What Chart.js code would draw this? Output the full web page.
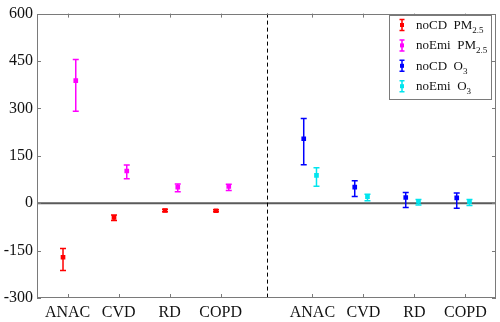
<!DOCTYPE html>
<html>
<head>
<meta charset="utf-8">
<script src="https://cdn.jsdelivr.net/npm/chart.js@4.4.1/dist/chart.umd.min.js"></script>
<style>
html, body { margin: 0; padding: 0; background: #fff; }
#wrap { width: 500px; height: 322px; }
</style>
</head>
<body>
<div id="wrap"><canvas id="healthchart"></canvas></div>
<script>
// x positions of the category ticks (left panel PM2.5, right panel O3)
const categories = ['ANAC', 'CVD', 'RD', 'COPD', 'ANAC', 'CVD', 'RD', 'COPD'];
const tickPos = [1, 2, 3, 4, 5.8, 6.8, 7.8, 8.8];
const dividerPos = 4.9;

const noCDPM = [-171, -45, -23, -24];
const noCDPMLo = [-213, -55, -27, -27];
const noCDPMHi = [-143, -37, -19, -21];

const noEmiPM = [388, 102, 51, 53];
const noEmiPMLo = [291, 77, 36, 40];
const noEmiPMHi = [455, 121, 61, 60];

const noCDO3 = [204, 51, 18, 17];
const noCDO3Lo = [122, 21, -14, -16];
const noCDO3Hi = [268, 71, 34, 32];

const noEmiO3 = [88, 21, 6, 5];
const noEmiO3Lo = [54, 8, -6, -7];
const noEmiO3Hi = [112, 28, 12, 12];

const serif = "'Liberation Serif', 'DejaVu Serif', serif";

function pts(xs, off, vals) {
    return vals.map((v, i) => ({ x: xs[i] + off, y: v }));
}

const series = [
    { name: 'noCD', sub: 'PM', idx: '2.5', color: '#ff0000', data: pts(tickPos.slice(0, 4), -0.09, noCDPM), lo: noCDPMLo, hi: noCDPMHi },
    { name: 'noEmi', sub: 'PM', idx: '2.5', color: '#ff00ff', data: pts(tickPos.slice(0, 4), 0.16, noEmiPM), lo: noEmiPMLo, hi: noEmiPMHi },
    { name: 'noCD', sub: 'O', idx: '3', color: '#0000ff', data: pts(tickPos.slice(4), -0.17, noCDO3), lo: noCDO3Lo, hi: noCDO3Hi },
    { name: 'noEmi', sub: 'O', idx: '3', color: '#00e5ee', data: pts(tickPos.slice(4), 0.08, noEmiO3), lo: noEmiO3Lo, hi: noEmiO3Hi }
];

// frame, inner ticks, zero line, divider, error bars, legend
const decor = {
    id: 'decor',
    beforeDatasetsDraw(chart) {
        const { ctx, chartArea: a, scales: { x, y } } = chart;
        ctx.save();
        // zero line
        ctx.strokeStyle = '#5a5a5a';
        ctx.lineWidth = 2;
        const y0 = y.getPixelForValue(0);
        ctx.beginPath(); ctx.moveTo(a.left, y0); ctx.lineTo(a.right, y0); ctx.stroke();
        // dashed divider
        const xd = Math.round(x.getPixelForValue(dividerPos)) + 0.5;
        ctx.strokeStyle = '#000';
        ctx.lineWidth = 1;
        ctx.setLineDash([4, 3]);
        ctx.beginPath(); ctx.moveTo(xd, a.top); ctx.lineTo(xd, a.bottom); ctx.stroke();
        ctx.setLineDash([]);
        // error bars
        ctx.lineWidth = 1.5;
        series.forEach(s => {
            ctx.strokeStyle = s.color;
            s.data.forEach((p, i) => {
                const px = x.getPixelForValue(p.x);
                const top = y.getPixelForValue(s.hi[i]);
                const bot = y.getPixelForValue(s.lo[i]);
                ctx.beginPath();
                ctx.moveTo(px, top); ctx.lineTo(px, bot);
                ctx.moveTo(px - 3, top); ctx.lineTo(px + 3, top);
                ctx.moveTo(px - 3, bot); ctx.lineTo(px + 3, bot);
                ctx.stroke();
            });
        });
        ctx.restore();
    },
    afterDraw(chart) {
        const { ctx, chartArea: a, scales: { x, y } } = chart;
        ctx.save();
        ctx.strokeStyle = '#7a7a7a';
        ctx.lineWidth = 1;
        ctx.strokeRect(Math.round(a.left) + 0.5, Math.round(a.top) + 0.5,
            Math.round(a.right - a.left) - 1, Math.round(a.bottom - a.top) - 1);
        ctx.beginPath();
        y.ticks.forEach(t => {
            const py = Math.round(y.getPixelForValue(t.value)) + 0.5;
            ctx.moveTo(a.left, py); ctx.lineTo(a.left + 4, py);
            ctx.moveTo(a.right, py); ctx.lineTo(a.right - 4, py);
        });
        tickPos.forEach(v => {
            const px = Math.round(x.getPixelForValue(v)) + 0.5;
            ctx.moveTo(px, a.bottom); ctx.lineTo(px, a.bottom - 4);
            ctx.moveTo(px, a.top); ctx.lineTo(px, a.top + 4);
        });
        ctx.stroke();

        // legend
        const lx = 389, ly = 15, lw = 102, lh = 84;
        ctx.fillStyle = '#fff';
        ctx.fillRect(lx, ly, lw, lh);
        ctx.strokeStyle = '#7a7a7a';
        ctx.strokeRect(lx + 0.5, ly + 0.5, lw, lh);
        series.forEach((s, i) => {
            const cy = ly + 10 + i * 20.4;
            ctx.strokeStyle = s.color;
            ctx.fillStyle = s.color;
            ctx.lineWidth = 1.5;
            ctx.beginPath();
            ctx.moveTo(402, cy - 5.5); ctx.lineTo(402, cy + 5.5);
            ctx.moveTo(399.5, cy - 5.5); ctx.lineTo(404.5, cy - 5.5);
            ctx.moveTo(399.5, cy + 5.5); ctx.lineTo(404.5, cy + 5.5);
            ctx.stroke();
            ctx.fillRect(400, cy - 2, 4, 4);
            ctx.fillStyle = '#111';
            ctx.textBaseline = 'alphabetic';
            ctx.font = '13px ' + serif;
            const main = s.name + '  ' + s.sub;
            ctx.fillText(main, 416, cy + 4);
            const w = ctx.measureText(main).width;
            ctx.font = '9px ' + serif;
            ctx.fillText(s.idx, 416 + w, cy + 8);
        });
        ctx.restore();
    }
};

const healthchart = new Chart(document.getElementById('healthchart'), {
    type: 'scatter',
    data: {
        datasets: series.map(s => ({
            label: s.name + ' ' + s.sub + s.idx,
            data: s.data,
            backgroundColor: s.color,
            borderColor: s.color,
            pointStyle: 'rect',
            pointRadius: 3.3,
            pointBorderWidth: 0
        }))
    },
    options: {
        responsive: true,
        maintainAspectRatio: false,
        animation: false,
        layout: { padding: { top: 9, right: 3, left: 0, bottom: 0 } },
        scales: {
            x: {
                type: 'linear',
                min: 0.4,
                max: 9.4,
                afterBuildTicks: s => { s.ticks = tickPos.map(v => ({ value: v })); },
                afterFit: s => { s.height = 24; },
                grid: { display: false, drawTicks: false },
                border: { display: false },
                ticks: {
                    autoSkip: false,
                    maxRotation: 0,
                    padding: 5,
                    color: '#111',
                    font: { family: serif, size: 16 },
                    callback: (v, i) => categories[i]
                }
            },
            y: {
                min: -300,
                max: 600,
                afterFit: s => { s.width = 37; },
                grid: { display: false, drawTicks: false },
                border: { display: false },
                ticks: {
                    stepSize: 150,
                    padding: 4,
                    color: '#111',
                    font: { family: serif, size: 16 }
                }
            }
        },
        plugins: {
            legend: { display: false },
            tooltip: { enabled: false }
        }
    },
    plugins: [decor]
});
</script>
</body>
</html>
